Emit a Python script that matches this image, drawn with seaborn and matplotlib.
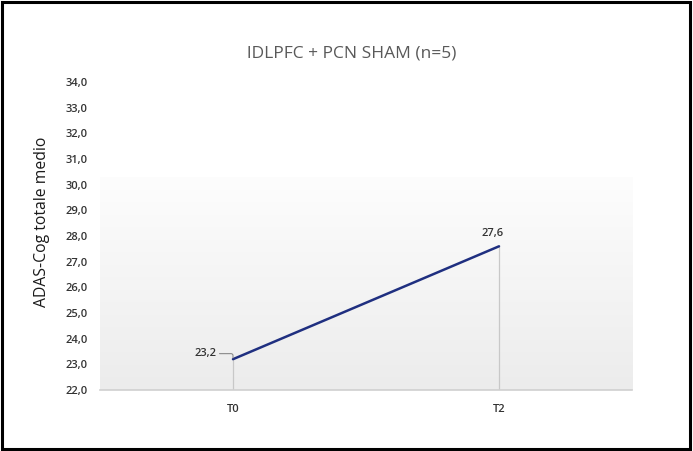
import numpy as np
import pandas as pd
import matplotlib
matplotlib.use("Agg")
import matplotlib.pyplot as plt
import seaborn as sns
from matplotlib.patches import Rectangle
from matplotlib.colors import LinearSegmentedColormap

# dati
tempi = ["T0", "T2"]
adas_medio = [23.2, 27.6]
y_ticks = [22, 23, 24, 25, 26, 27, 28, 29, 30, 31, 32, 33, 34]

df = pd.DataFrame({"tempo": tempi, "adas": adas_medio})

sns.set_theme(style="white")
plt.rcParams['font.family'] = ['Open Sans', 'DejaVu Sans']

fig = plt.figure(figsize=(6.93, 4.51), dpi=100)
ax = fig.add_axes([0.1443, 0.1353, 0.7677, 0.6827])

# sfondo sfumato (bianco in alto, grigio chiaro in basso)
grad = np.linspace(0.0, 1.0, 256).reshape(-1, 1)
cmap_bg = LinearSegmentedColormap.from_list("g", ["#ececec", "#fdfdfd"])
ax.imshow(grad, extent=[-0.5, 1.5, 22, 30.3], aspect="auto", cmap=cmap_bg,
          origin="lower", zorder=0)

x_pos = np.arange(len(tempi))
ax.vlines(x_pos, 22, adas_medio, color="#c8c8c8", lw=0.9, zorder=1)
sns.lineplot(x=x_pos, y=df["adas"], ax=ax, color="#1f2f80", lw=1.8, zorder=3)

ax.set_xlim(-0.5, 1.5)
ax.set_ylim(22, 34)
ax.set_yticks(y_ticks)
ax.set_yticklabels([f"{v:.1f}".replace(".", ",") for v in y_ticks], fontsize=8,
                   color="#333333", fontweight="semibold")
ax.set_xticks(x_pos)
ax.set_xticklabels(tempi, fontsize=8, color="#333333", fontweight="semibold")
ax.tick_params(axis="y", length=0, pad=9)
ax.tick_params(axis="x", length=0, pad=10)

for s in ["top", "right", "left"]:
    ax.spines[s].set_visible(False)
ax.spines["bottom"].set_color("#d0d0d0")
ax.spines["bottom"].set_linewidth(1.2)

ax.set_xlabel("")
ax.set_ylabel("")
fig.text(0.061, 0.508, "ADAS-Cog totale medio", fontsize=11.3, color="#1a1a1a",
         rotation=90, ha="center", va="center")

# etichette dati
lab0 = f"{adas_medio[0]:.1f}".replace(".", ",")
lab1 = f"{adas_medio[1]:.1f}".replace(".", ",")
ax.annotate(lab0, xy=(x_pos[0], adas_medio[0]), xytext=(-20, 4), textcoords="offset points",
            fontsize=8, color="#333333", fontweight="semibold", ha="center", va="center",
            arrowprops=dict(arrowstyle="-", color="#8a8a8a", lw=0.8,
                            connectionstyle="angle,angleA=0,angleB=90,rad=2",
                            shrinkA=0, shrinkB=1))
ax.annotate(lab1, xy=(x_pos[1], adas_medio[1]), xytext=(-5, 9), textcoords="offset points",
            fontsize=8, color="#333333", fontweight="semibold", ha="center", va="center")

fig.text(0.508, 0.882, "lDLPFC + PCN SHAM (n=5)", fontsize=12.5, color="#595959",
         ha="center", va="center")

# cornice
fig.patches.append(Rectangle((0.003, 0.004), 0.993, 0.991, transform=fig.transFigure,
                             fill=False, edgecolor="black", lw=2.2))

fig.savefig("out.png", dpi=100)
